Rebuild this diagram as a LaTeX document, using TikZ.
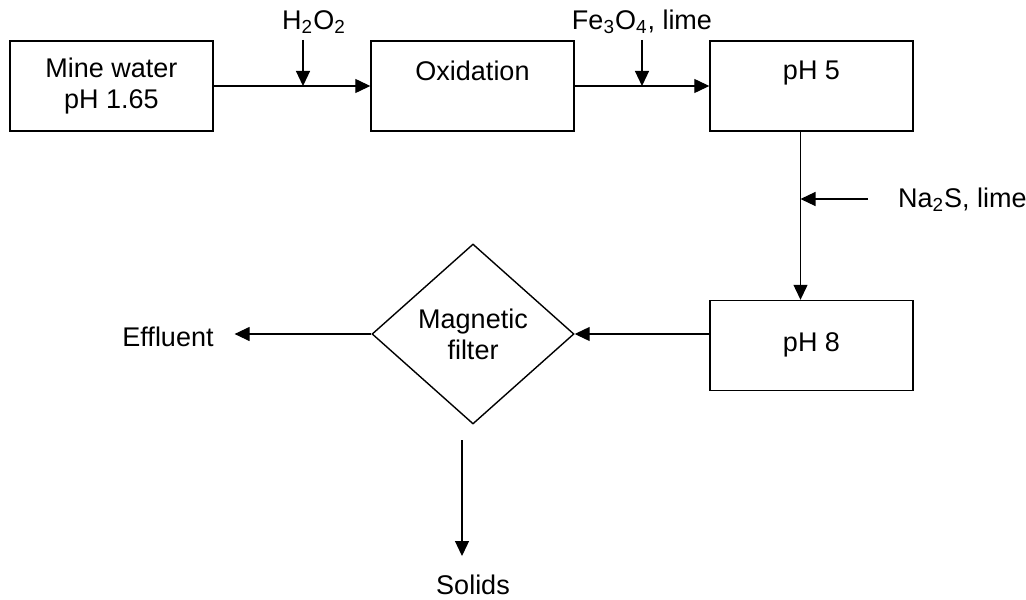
\documentclass[tikz,border=0pt]{standalone}
\usepackage{fontspec}
\setmainfont{Liberation Sans}
\usetikzlibrary{arrows.meta, positioning, shapes.geometric}

\begin{document}
\begin{tikzpicture}[
    x=0.5pt, y=-0.5pt,
    font=\fontsize{13.5}{15.5}\selectfont,
    unit/.style={
        draw=black,
        line width=0.7pt,
        minimum width=101.5pt,
        minimum height=45pt,
        align=center
    },
    filterbox/.style={
        draw=black,
        line width=0.7pt,
        diamond,
        inner sep=0pt,
        minimum width=101pt,
        minimum height=90pt,
        align=center
    },
    feed/.style={align=center},
    arrow/.style={-{Triangle[length=7.5pt,width=7pt]}, line width=0.6pt, draw=black},
]
\useasboundingbox (0,0) rectangle (1026,599);

% process units
\node[unit] (mine) at (111.5,86) {Mine water\\pH 1.65};
\node[unit] (oxid) at (472.5,86) {Oxidation\\~};
\node[unit] (ph5) at (811.5,86) {pH 5\\~};
\node[unit] (ph8) at (811.5,345.5) {\raisebox{3.5pt}{pH 8}};
\node[filterbox] (filter) at (473,334) {Magnetic\\filter};

% reagents and products
\node[feed] (h2o2) at (314,22) {H\textsubscript{2}O\textsubscript{2}};
\node[feed] (fe3o4) at (642,22) {Fe\textsubscript{3}O\textsubscript{4}, lime};
\node[feed, anchor=west] (na2s) at (891,200) {Na\textsubscript{2}S, lime};
\node[feed] (effluent) at (168,337) {Effluent};
\node[feed] (solids) at (473,585) {Solids};

\coordinate (h2top) at (303,40);
\coordinate (fetop) at (642,40);
\coordinate (natail) at (868,199);
\coordinate (ph5link) at ([xshift=-5.5pt]ph5.south);
\coordinate (soltop) at (462,440);

\draw[arrow] (mine) -- (oxid);
\draw[arrow] (oxid) -- (ph5);
\draw[arrow] (h2top) -- (h2top |- mine.east);
\draw[arrow] (fetop) -- (fetop |- oxid.east);

\draw[arrow] (ph5link) -- (ph5link |- ph8.north);
\draw[arrow] (natail) -- (natail -| ph5link);

\draw[arrow] (ph8.west |- filter.east) -- (filter.east);
\draw[arrow, shorten >=7pt] (filter.west) -- (filter.west -| effluent.east);
\draw[arrow, shorten >=6pt] (soltop) -- (soltop |- solids.north);

\end{tikzpicture}
\end{document}
